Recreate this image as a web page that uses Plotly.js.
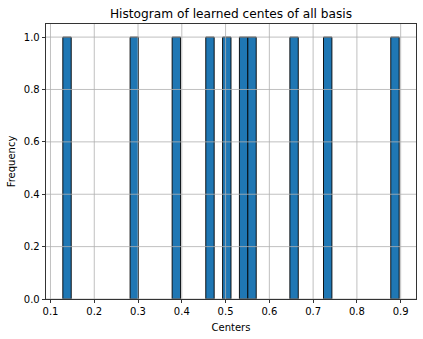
<!DOCTYPE html>
<html>
<head>
<meta charset="utf-8">
<script src="https://cdn.plot.ly/plotly-3.0.1.min.js"></script>
<style>html,body{margin:0;padding:0;background:#fff;}#chart{width:423px;height:339px;}</style>
</head>
<body>
<div id="chart"></div>
<script>
// Learned centers (one value per non-empty bin, each bin has frequency 1)
const centers = [0.1282, 0.290, 0.385, 0.462, 0.500, 0.540, 0.560, 0.655, 0.730, 0.8966];
const nBins = 40;
const xTickVals = [0.1, 0.2, 0.3, 0.4, 0.5, 0.6, 0.7, 0.8, 0.9];
const yTickVals = [0.0, 0.2, 0.4, 0.6, 0.8, 1.0];
const titleText = "Histogram of learned centes of all basis";
const xLabel = "Centers";
const yLabel = "Frequency";

const cMin = Math.min(...centers), cMax = Math.max(...centers);
const span = cMax - cMin;
// matplotlib-style bins: the last bin includes the maximum
const binSize = span / nBins * 1.000001;
const pad = span * 0.05;

const font = {family: "DejaVu Sans, sans-serif", size: 10, color: "#000"};
const gridColor = "#b0b0b0";

const shapes = [];
xTickVals.forEach(v => shapes.push({type: "line", xref: "x", yref: "paper", x0: v, x1: v, y0: 0, y1: 1,
  line: {color: gridColor, width: 0.8}, layer: "above"}));
yTickVals.forEach(v => shapes.push({type: "line", xref: "paper", yref: "y", x0: 0, x1: 1, y0: v, y1: v,
  line: {color: gridColor, width: 0.8}, layer: "above"}));

const trace = {
  type: "histogram",
  x: centers,
  autobinx: false,
  xbins: {start: cMin, end: cMin + binSize * nBins, size: binSize},
  marker: {color: "#1f77b4", line: {color: "#000", width: 0.9}},
  hoverinfo: "skip"
};

const axisCommon = {
  showline: true, linecolor: "#000", linewidth: 0.8, mirror: true,
  ticks: "outside", ticklen: 3.5, tickwidth: 0.8, tickcolor: "#000",
  showgrid: false, zeroline: false, tickfont: font, layer: "above traces"
};

const layout = {
  width: 423, height: 339,
  margin: {l: 46, r: 7, t: 24, b: 40, pad: 0},
  paper_bgcolor: "#fff", plot_bgcolor: "#fff",
  showlegend: false,
  bargap: 0,
  title: {text: titleText, font: {family: "DejaVu Sans, sans-serif", size: 12.2, color: "#000"},
    x: 0.5, xref: "paper", xanchor: "center", y: 1, yref: "paper", yanchor: "bottom", pad: {b: 6}},
  xaxis: Object.assign({}, axisCommon, {
    range: [cMin - pad, cMax + pad], tickvals: xTickVals, tickformat: ".1f",
    title: {text: xLabel, font: font, standoff: 7}
  }),
  yaxis: Object.assign({}, axisCommon, {
    range: [0, 1.05], tickvals: yTickVals, tickformat: ".1f",
    title: {text: yLabel, font: font, standoff: 6}
  }),
  shapes: shapes
};

Plotly.newPlot("chart", [trace], layout, {staticPlot: true, displayModeBar: false});
</script>
</body>
</html>
